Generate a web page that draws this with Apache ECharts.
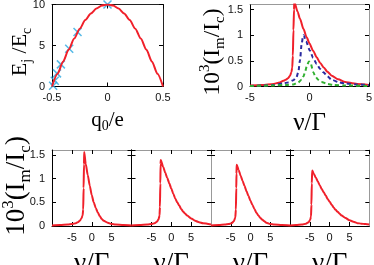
<!DOCTYPE html>
<html><head><meta charset="utf-8">
<script src="https://cdn.jsdelivr.net/npm/echarts@6/dist/echarts.min.js"></script>
<style>html,body{margin:0;padding:0;background:#fff}#c{width:374px;height:265px}</style>
</head><body><div id="c"></div>
<script>
// ---- data ----
const qCurve = [-0.5,-0.45,-0.4,-0.35,-0.3,-0.25,-0.2,-0.15,-0.1,-0.05,0,0.05,0.1,0.15,0.2,0.25,0.3,0.35,0.4,0.45,0.5];
const eCurve = [0,1.55,3.05,4.5,5.85,7.05,8.1,8.9,9.5,9.88,10,9.88,9.5,8.9,8.1,7.05,5.85,4.5,3.05,1.55,0];
const qMarks = [-0.49,-0.475,-0.455,-0.42,-0.345,-0.27,0];
const eMarks = [0.1,0.7,1.6,2.7,4.6,6.65,10];

const nuRed = [-5,-4,-3,-2.5,-2.2,-2,-1.8,-1.64,-1.52,-1.45,-1.4,-1.35,-1.3,-1.28,-1,-0.8,-0.5,-0.24,0,0.3,0.6,0.9,1.2,1.5,1.87,2.4,3,3.5,4,5];
const imRed = [0.02,0.03,0.05,0.08,0.11,0.13,0.16,0.21,0.28,0.37,0.6,1.1,1.5,1.65,1.46,1.32,1.12,0.96,0.84,0.7,0.57,0.46,0.37,0.29,0.21,0.14,0.09,0.07,0.05,0.03];
const nuBlue = [-5,-4,-3,-2.2,-1.8,-1.36,-1.1,-0.94,-0.8,-0.66,-0.55,-0.49,-0.3,0.04,0.3,0.6,0.9,1.16,1.5,1.87,2.5,3,4,5];
const imBlue = [0.01,0.02,0.03,0.06,0.08,0.12,0.18,0.28,0.51,0.83,0.97,1.0,0.88,0.7,0.56,0.44,0.34,0.28,0.2,0.13,0.08,0.06,0.04,0.03];
const nuGreen = [-5,-3,-2,-1.36,-1,-0.66,-0.5,-0.38,-0.2,-0.04,0.1,0.32,0.5,0.74,1,1.5,2,3,5];
const imGreen = [0.01,0.02,0.03,0.04,0.07,0.13,0.2,0.28,0.42,0.49,0.45,0.28,0.19,0.13,0.09,0.05,0.03,0.02,0.01];

const nuP1 = [-10,-8,-6,-5,-4,-3.5,-3,-2.6,-2.3,-2.15,-2.05,-1.95,-1.9,-1.5,-1,-0.5,0,0.5,1,1.5,2,2.5,3,4,5,6,8,10];
const imP1 = [0.01,0.02,0.03,0.04,0.06,0.08,0.11,0.16,0.22,0.35,0.8,1.3,1.56,1.3,1.07,0.85,0.65,0.5,0.38,0.29,0.21,0.15,0.11,0.07,0.04,0.03,0.02,0.01];
const nuP2 = [-10,-8,-6,-5,-4.2,-3.6,-3.2,-2.95,-2.85,-2.75,-2.68,-2.65,-2,-1.5,-1,-0.5,0,0.5,1,1.5,2,2.5,3,3.5,4,5,6,7,8,10];
const imP2 = [0.01,0.02,0.03,0.04,0.06,0.09,0.14,0.22,0.4,0.9,1.3,1.39,1.24,1.12,1.01,0.9,0.79,0.68,0.58,0.5,0.43,0.36,0.3,0.26,0.22,0.16,0.11,0.08,0.06,0.03];
const nuP3 = [-10,-8,-6.5,-5.5,-4.8,-4.2,-3.85,-3.7,-3.6,-3.55,-3.5,-3,-2.5,-2,-1.5,-1,-0.5,0,0.5,1,1.5,2,2.5,3,3.5,4,5,6,8,10];
const imP3 = [0.01,0.02,0.03,0.04,0.06,0.1,0.18,0.35,0.8,1.1,1.29,1.18,1.06,0.95,0.84,0.73,0.63,0.53,0.44,0.36,0.28,0.22,0.17,0.13,0.1,0.07,0.04,0.03,0.02,0.01];
const nuP4 = [-10,-8.5,-7,-6,-5.3,-4.9,-4.7,-4.6,-4.5,-4.4,-4,-3.5,-3,-2.5,-2,-1.5,-1,-0.5,0,0.5,1,1.5,2,2.5,3,4,5,6,7,8,9,10];
const imP4 = [0.01,0.02,0.03,0.05,0.08,0.13,0.2,0.45,0.9,1.17,1.1,1.02,0.94,0.86,0.78,0.71,0.64,0.57,0.51,0.45,0.39,0.34,0.3,0.26,0.22,0.17,0.12,0.09,0.06,0.05,0.04,0.03];

const yNameE = '{m|E}{s|j}{m| /E}{s|c}';
const xNameQ = '{m|q}{s|0}{m|/e}';
const yNameI = '{m|10}{p|3}{m|(I}{s|m}{m|/I}{s|c}{m|)}';
const xNameNu = '{m|ν/Γ}';

// ---- layout / style ----
const RED = '#f0202a', CYAN = '#2aa8e0', BLUE = '#2a2aa0', GREEN = '#30b030';
const SERIF = '"Liberation Serif", "DejaVu Serif", serif';
const SANS = '"Liberation Sans", Arial, sans-serif';
function makeRich(big, small, lh) {
  return {
    m: {fontSize: big, fontFamily: SERIF, color: '#000', fill: '#000', lineHeight: lh},
    s: {fontSize: small, fontFamily: SERIF, color: '#000', fill: '#000', verticalAlign: 'bottom', lineHeight: small + 2},
    p: {fontSize: small, fontFamily: SERIF, color: '#000', fill: '#000', verticalAlign: 'top', lineHeight: small + 2}
  };
}
const richAx = makeRich(21, 14, 26);
const richNuB = makeRich(25, 15, 30);
const richNuC = makeRich(27, 17, 32);
const gridBase = {outerBoundsMode: 'none', containLabel: false};
const grids = [
  Object.assign({left: 52, top: 4.5, width: 111, height: 82}, gridBase),
  Object.assign({left: 250, top: 4.5, width: 119, height: 82}, gridBase),
  Object.assign({left: 52, top: 150, width: 79.5, height: 76}, gridBase),
  Object.assign({left: 131.5, top: 150, width: 79.5, height: 76}, gridBase),
  Object.assign({left: 211, top: 150, width: 79, height: 76}, gridBase),
  Object.assign({left: 290, top: 150, width: 79.3, height: 76}, gridBase)
];
const xCfg = [
  {min: -0.5, max: 0.5, interval: 0.5, name: xNameQ, gap: 21, rich: richAx, lc: '#000', mc: '#222'},
  {min: -5, max: 5, interval: 5, name: xNameNu, gap: 22, rich: richNuB, lc: '#000', mc: '#999'},
  {min: -10, max: 10, interval: 5, name: xNameNu, gap: 22, rich: richNuC, hideEnds: true, lc: '#000', mc: '#999'},
  {min: -10, max: 10, interval: 5, name: xNameNu, gap: 22, rich: richNuC, hideEnds: true, lc: '#000', mc: '#999'},
  {min: -10, max: 10, interval: 5, name: xNameNu, gap: 22, rich: richNuC, hideEnds: true, lc: '#000', mc: '#999'},
  {min: -10, max: 10, interval: 5, name: xNameNu, gap: 22, rich: richNuC, hideEnds: true, lc: '#000', mc: '#999'}
];
const yCfg = [
  {min: 0, max: 10, interval: 5, labels: true, lc: '#000', mc: '#222'},
  {min: 0, max: 1.6, interval: 0.5, labels: true, lc: '#000', mc: '#999'},
  {min: 0, max: 1.6, interval: 0.5, labels: true, lc: '#000', mc: '#000'},
  {min: 0, max: 1.6, interval: 0.5, labels: false, lc: '#000', mc: '#999'},
  {min: 0, max: 1.6, interval: 0.5, labels: false, lc: '#999', mc: '#000'},
  {min: 0, max: 1.6, interval: 0.5, labels: false, lc: '#000', mc: '#999'}
];
// rotated y-axis titles (centre positions in px)
const yTitles = [
  {text: yNameE, x: 20, y: 52, rich: makeRich(22, 14, 28)},
  {text: yNameI, x: 213, y: 52, rich: makeRich(23.5, 15, 30)},
  {text: yNameI, x: 17, y: 186, rich: makeRich(27, 17, 34)}
];
const xAxes = [], yAxes = [];
grids.forEach((g, i) => {
  const xc = xCfg[i], yc = yCfg[i];
  xAxes.push({
    type: 'value', gridIndex: i, position: 'bottom', min: xc.min, max: xc.max, interval: xc.interval,
    splitLine: {show: false},
    axisLine: {show: true, onZero: false, lineStyle: {color: xc.lc, width: 1}},
    axisTick: {show: true, inside: true, length: 4, lineStyle: {color: '#000'}},
    axisLabel: {show: true, margin: 6, fontSize: 11, fontFamily: SANS, color: '#111',
      showMinLabel: !xc.hideEnds, showMaxLabel: !xc.hideEnds},
    name: xc.name, nameLocation: 'middle', nameGap: xc.gap, nameTextStyle: {rich: xc.rich}
  });
  xAxes.push({
    type: 'value', gridIndex: i, position: 'top', min: xc.min, max: xc.max, interval: xc.interval,
    splitLine: {show: false},
    axisLine: {show: true, onZero: false, lineStyle: {color: xc.mc, width: 1}},
    axisTick: {show: true, inside: true, length: 4, lineStyle: {color: '#000'}},
    axisLabel: {show: false}
  });
  yAxes.push({
    type: 'value', gridIndex: i, position: 'left', min: yc.min, max: yc.max, interval: yc.interval,
    splitLine: {show: false},
    axisLine: {show: true, onZero: false, lineStyle: {color: yc.lc, width: 1}},
    axisTick: {show: true, inside: true, length: 4, lineStyle: {color: '#000'}},
    axisLabel: {show: yc.labels, margin: 7, fontSize: 11, fontFamily: SANS, color: '#111', showMaxLabel: i === 0}
  });
  yAxes.push({
    type: 'value', gridIndex: i, position: 'right', min: yc.min, max: yc.max, interval: yc.interval,
    splitLine: {show: false},
    axisLine: {show: true, onZero: false, lineStyle: {color: yc.mc, width: 1}},
    axisTick: {show: true, inside: true, length: 4, lineStyle: {color: '#000'}},
    axisLabel: {show: false}
  });
});
const zip = (a, b) => a.map((v, k) => [v, b[k]]);
function lineSeries(gi, xs, ys, color, dashed) {
  return {
    type: 'line', xAxisIndex: 2 * gi, yAxisIndex: 2 * gi, data: zip(xs, ys),
    showSymbol: false, smooth: 0.25, smoothMonotone: 'x', clip: true,
    lineStyle: {color: color, width: 2, type: dashed ? [4, 3] : 'solid'}, animation: false
  };
}
const series = [
  lineSeries(0, qCurve, eCurve, RED, false),
  {type: 'scatter', xAxisIndex: 0, yAxisIndex: 0, data: zip(qMarks, eMarks), clip: false,
   symbol: 'path://M0 0L10 10M10 0L0 10', symbolSize: 8,
   itemStyle: {color: 'rgba(0,0,0,0)', borderColor: CYAN, borderWidth: 1.5}, animation: false},
  lineSeries(1, nuRed, imRed, RED, false),
  lineSeries(1, nuBlue, imBlue, BLUE, true),
  lineSeries(1, nuGreen, imGreen, GREEN, true),
  lineSeries(2, nuP1, imP1, RED, false),
  lineSeries(3, nuP2, imP2, RED, false),
  lineSeries(4, nuP3, imP3, RED, false),
  lineSeries(5, nuP4, imP4, RED, false)
];
const graphic = yTitles.map(t => ({
  type: 'text', x: t.x, y: t.y, rotation: Math.PI / 2, silent: true,
  style: {text: t.text, rich: t.rich, fill: '#000', align: 'center', verticalAlign: 'middle'}
}));
const chart = echarts.init(document.getElementById('c'), null, {renderer: 'canvas'});
chart.setOption({animation: false, grid: grids, xAxis: xAxes, yAxis: yAxes, series: series, graphic: graphic});
</script></body></html>
